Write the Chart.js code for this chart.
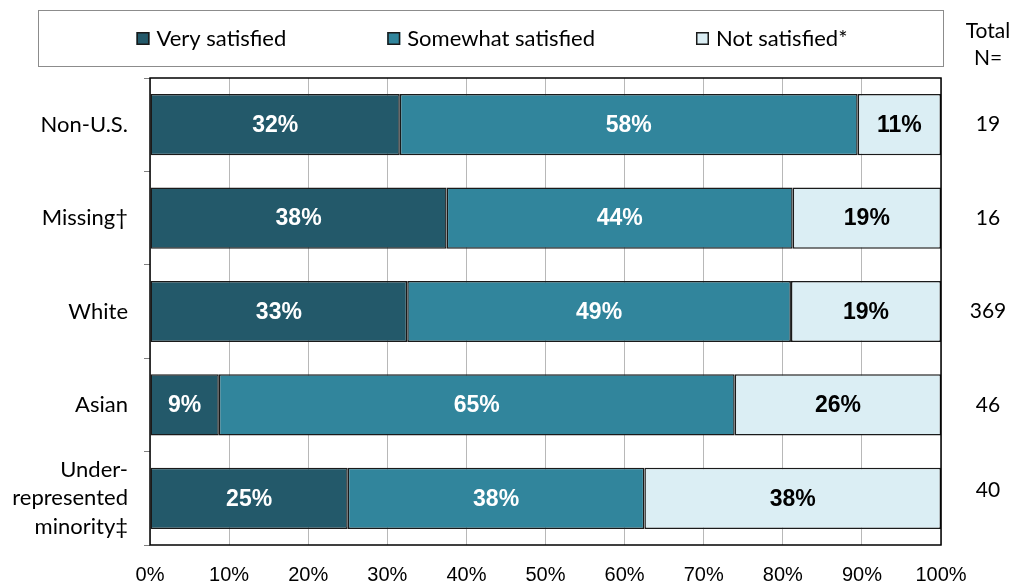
<!DOCTYPE html>
<html>
<head>
<meta charset="utf-8">
<script src="https://cdn.jsdelivr.net/npm/chart.js@4"></script>
<style>
  html, body { margin: 0; padding: 0; background: #fff; }
  #wrap { width: 1015px; height: 586px; }
</style>
</head>
<body>
<div id="wrap"><canvas id="mycanvas" width="1015" height="586"></canvas></div>
<script>
// data
var groups = [["Non-U.S."], ["Missing\u2020"], ["White"], ["Asian"], ["Under-", "represented", "minority\u2021"]];
var totalN = [19, 16, 369, 46, 40];
var very_satisfied = [31.58, 37.5, 32.52, 8.7, 25];
var somewhat_satisfied = [57.89, 43.75, 48.51, 65.22, 37.5];
var not_satisfied = [10.53, 18.75, 18.97, 26.09, 37.5];
var xTicks = [0, 10, 20, 30, 40, 50, 60, 70, 80, 90, 100];

var labelFont = "Lato, 'Open Sans', sans-serif";

var chartdata = {
  labels: groups,
  datasets: [
    {
      label: "Very satisfied",
      backgroundColor: "#23596a",
      borderColor: "#1a1a1a",
      borderWidth: 1.5,
      borderSkipped: false,
      data: very_satisfied,
      textColor: "#ffffff"
    },
    {
      label: "Somewhat satisfied",
      backgroundColor: "#31859c",
      borderColor: "#1a1a1a",
      borderWidth: 1.5,
      borderSkipped: false,
      data: somewhat_satisfied,
      textColor: "#ffffff"
    },
    {
      label: "Not satisfied*",
      backgroundColor: "#dbeef4",
      borderColor: "#1a1a1a",
      borderWidth: 1.5,
      borderSkipped: false,
      data: not_satisfied,
      textColor: "#000000"
    }
  ]
};

// labels inside bars, N column, frame and legend box
var extras = {
  id: "extras",
  afterDatasetsDraw: function(chart) {
    var ctx = chart.ctx;
    ctx.save();
    ctx.font = "bold 23px 'Liberation Sans', Arial, sans-serif";
    ctx.textAlign = "center";
    ctx.textBaseline = "middle";
    chart.data.datasets.forEach(function(ds, di) {
      var meta = chart.getDatasetMeta(di);
      meta.data.forEach(function(bar, i) {
        var cx = (bar.x + bar.base) / 2;
        ctx.fillStyle = ds.textColor;
        ctx.fillText(Math.round(ds.data[i]) + "%", cx, bar.y + 1);
      });
    });

    // plot frame
    var a = chart.chartArea;
    ctx.strokeStyle = "#000";
    ctx.lineWidth = 1.5;
    ctx.strokeRect(a.left, a.top, a.right - a.left, a.bottom - a.top);

    // Total N column
    ctx.fillStyle = "#000";
    ctx.font = "21px " + labelFont;
    ctx.fillText("Total", 988, 31);
    ctx.fillText("N=", 988, 58);
    var meta0 = chart.getDatasetMeta(0);
    meta0.data.forEach(function(bar, i) {
      ctx.fillText(String(totalN[i]), 988, i === 4 ? bar.y - 8 : bar.y);
    });

    // legend box with items
    ctx.strokeStyle = "#8c8c8c";
    ctx.lineWidth = 1;
    ctx.strokeRect(38.5, 10.5, 905, 56);
    ctx.font = "22px " + labelFont;
    ctx.textAlign = "left";
    var gap = 101, box = 13, widths = [], total = 0;
    chart.data.datasets.forEach(function(ds) {
      var w = box + 7 + ctx.measureText(ds.label).width;
      widths.push(w);
      total += w;
    });
    total += gap * (widths.length - 1);
    var x = 492 - total / 2;
    chart.data.datasets.forEach(function(ds, di) {
      ctx.fillStyle = ds.backgroundColor;
      ctx.fillRect(x, 32, box, box);
      ctx.strokeStyle = "#1a1a1a";
      ctx.lineWidth = 1.5;
      ctx.strokeRect(x + 0.75, 32.75, box - 1.5, box - 1.5);
      ctx.fillStyle = "#000";
      ctx.fillText(ds.label, x + box + 7, 39);
      x += widths[di] + gap;
    });
    ctx.restore();
  }
};

var ctx = document.getElementById("mycanvas");
var chart = new Chart(ctx, {
  type: "bar",
  data: chartdata,
  plugins: [extras],
  options: {
    indexAxis: "y",
    responsive: false,
    animation: false,
    layout: { padding: { top: 78, right: 74, left: 0, bottom: 0 } },
    datasets: { bar: { categoryPercentage: 1, barPercentage: 0.655 } },
    plugins: {
      tooltip: { enabled: false },
      legend: { display: false }
    },
    scales: {
      x: {
        stacked: true,
        min: 0,
        max: 100,
        afterFit: function(s) { s.height = 41; },
        afterBuildTicks: function(s) { s.ticks = xTicks.map(function(v) { return { value: v }; }); },
        grid: { color: "#b8b8b8", lineWidth: 1, drawTicks: false },
        border: { display: false },
        ticks: {
          color: "#000",
          font: { family: "'Liberation Sans', Arial, sans-serif", size: 20 },
          padding: 18,
          callback: function(v) { return v + "%"; }
        }
      },
      y: {
        stacked: true,
        afterFit: function(s) { s.width = 150; },
        grid: { offset: true, drawOnChartArea: false, tickLength: 6, tickColor: "#7f7f7f" },
        border: { display: false },
        ticks: {
          color: "#000",
          font: { family: labelFont, size: 22, lineHeight: 1.3 },
          padding: 16
        }
      }
    }
  }
});
</script>
</body>
</html>
